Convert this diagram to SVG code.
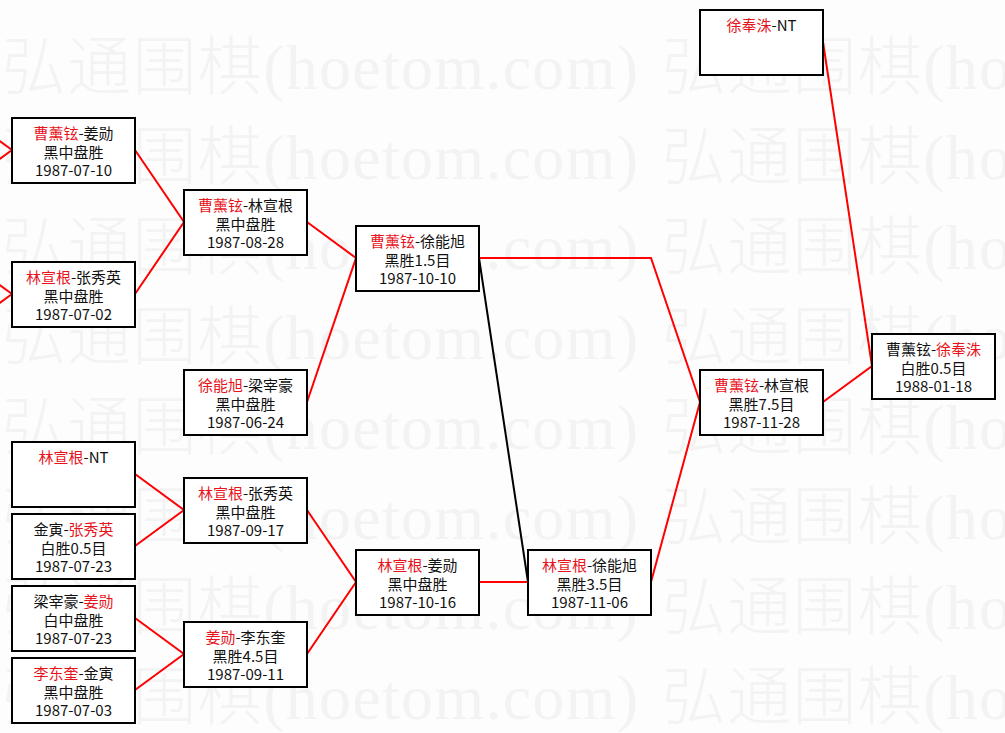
<svg xmlns="http://www.w3.org/2000/svg" width="1005" height="733" viewBox="0 0 1005 733">
<style>
.bg{fill:#fdfdfd}
.wm{font-family:"Liberation Serif","Noto Sans CJK SC",serif;font-size:64px;font-weight:300;fill:#f3f3f3}
.box{fill:#fff;stroke:#000;stroke-width:2}
.t{font-family:"Noto Sans CJK SC",sans-serif;font-size:15px;text-anchor:middle;fill:#111}
.r{fill:#e8141c}
.c{fill:none;stroke:#ff0000;stroke-width:2}
.k{fill:none;stroke:#000;stroke-width:2}
</style>
<rect class="bg" x="0" y="0" width="1005" height="733"/>
<g id="watermark">
<text class="wm" x="2" y="89" textLength="636" lengthAdjust="spacing">弘通围棋(hoetom.com)</text>
<text class="wm" x="662" y="89" textLength="636" lengthAdjust="spacing">弘通围棋(hoetom.com)</text>
<text class="wm" x="2" y="179" textLength="636" lengthAdjust="spacing">弘通围棋(hoetom.com)</text>
<text class="wm" x="662" y="179" textLength="636" lengthAdjust="spacing">弘通围棋(hoetom.com)</text>
<text class="wm" x="2" y="269" textLength="636" lengthAdjust="spacing">弘通围棋(hoetom.com)</text>
<text class="wm" x="662" y="269" textLength="636" lengthAdjust="spacing">弘通围棋(hoetom.com)</text>
<text class="wm" x="2" y="359" textLength="636" lengthAdjust="spacing">弘通围棋(hoetom.com)</text>
<text class="wm" x="662" y="359" textLength="636" lengthAdjust="spacing">弘通围棋(hoetom.com)</text>
<text class="wm" x="2" y="449" textLength="636" lengthAdjust="spacing">弘通围棋(hoetom.com)</text>
<text class="wm" x="662" y="449" textLength="636" lengthAdjust="spacing">弘通围棋(hoetom.com)</text>
<text class="wm" x="2" y="539" textLength="636" lengthAdjust="spacing">弘通围棋(hoetom.com)</text>
<text class="wm" x="662" y="539" textLength="636" lengthAdjust="spacing">弘通围棋(hoetom.com)</text>
<text class="wm" x="2" y="629" textLength="636" lengthAdjust="spacing">弘通围棋(hoetom.com)</text>
<text class="wm" x="662" y="629" textLength="636" lengthAdjust="spacing">弘通围棋(hoetom.com)</text>
<text class="wm" x="2" y="719" textLength="636" lengthAdjust="spacing">弘通围棋(hoetom.com)</text>
<text class="wm" x="662" y="719" textLength="636" lengthAdjust="spacing">弘通围棋(hoetom.com)</text>
</g>
<g id="connectors">
<polyline class="c" points="-37,114 12,150 -37,186"/>
<polyline class="c" points="-37,258 12,294 -37,330"/>
<polyline class="c" points="135,150 184,222 135,294"/>
<polyline class="c" points="135,474 184,510 135,546"/>
<polyline class="c" points="135,618 184,654 135,690"/>
<polyline class="c" points="307,222 356,258 307,402"/>
<polyline class="c" points="307,510 356,582 307,654"/>
<line class="k" x1="479" y1="258" x2="528" y2="582"/>
<line class="c" x1="479" y1="582" x2="528" y2="582"/>
<polyline class="c" points="479,258 651,258 700,402 651,582"/>
<polyline class="c" points="823,402 872,366 823,42"/>
</g>
<g id="nA"><rect class="box" x="12" y="118" width="123" height="65"/><text class="t" x="73.5" y="139"><tspan class="r">曹薰铉</tspan>-姜勋</text><text class="t" x="73.5" y="158">黑中盘胜</text><text class="t" x="73.5" y="176">1987-07-10</text></g>
<g id="nB"><rect class="box" x="12" y="262" width="123" height="65"/><text class="t" x="73.5" y="283"><tspan class="r">林宣根</tspan>-张秀英</text><text class="t" x="73.5" y="302">黑中盘胜</text><text class="t" x="73.5" y="320">1987-07-02</text></g>
<g id="nC"><rect class="box" x="184" y="190" width="123" height="65"/><text class="t" x="245.5" y="211"><tspan class="r">曹薰铉</tspan>-林宣根</text><text class="t" x="245.5" y="230">黑中盘胜</text><text class="t" x="245.5" y="248">1987-08-28</text></g>
<g id="nD"><rect class="box" x="184" y="370" width="123" height="65"/><text class="t" x="245.5" y="391"><tspan class="r">徐能旭</tspan>-梁宰豪</text><text class="t" x="245.5" y="410">黑中盘胜</text><text class="t" x="245.5" y="428">1987-06-24</text></g>
<g id="nE"><rect class="box" x="12" y="442" width="123" height="65"/><text class="t" x="73.5" y="463"><tspan class="r">林宣根</tspan>-NT</text></g>
<g id="nF"><rect class="box" x="12" y="514" width="123" height="65"/><text class="t" x="73.5" y="535">金寅-<tspan class="r">张秀英</tspan></text><text class="t" x="73.5" y="554">白胜0.5目</text><text class="t" x="73.5" y="572">1987-07-23</text></g>
<g id="nG"><rect class="box" x="184" y="478" width="123" height="65"/><text class="t" x="245.5" y="499"><tspan class="r">林宣根</tspan>-张秀英</text><text class="t" x="245.5" y="518">黑中盘胜</text><text class="t" x="245.5" y="536">1987-09-17</text></g>
<g id="nH"><rect class="box" x="12" y="586" width="123" height="65"/><text class="t" x="73.5" y="607">梁宰豪-<tspan class="r">姜勋</tspan></text><text class="t" x="73.5" y="626">白中盘胜</text><text class="t" x="73.5" y="644">1987-07-23</text></g>
<g id="nI"><rect class="box" x="12" y="658" width="123" height="65"/><text class="t" x="73.5" y="679"><tspan class="r">李东奎</tspan>-金寅</text><text class="t" x="73.5" y="698">黑中盘胜</text><text class="t" x="73.5" y="716">1987-07-03</text></g>
<g id="nJ"><rect class="box" x="184" y="622" width="123" height="65"/><text class="t" x="245.5" y="643"><tspan class="r">姜勋</tspan>-李东奎</text><text class="t" x="245.5" y="662">黑胜4.5目</text><text class="t" x="245.5" y="680">1987-09-11</text></g>
<g id="nK"><rect class="box" x="356" y="226" width="123" height="65"/><text class="t" x="417.5" y="247"><tspan class="r">曹薰铉</tspan>-徐能旭</text><text class="t" x="417.5" y="266">黑胜1.5目</text><text class="t" x="417.5" y="284">1987-10-10</text></g>
<g id="nL"><rect class="box" x="356" y="550" width="123" height="65"/><text class="t" x="417.5" y="571"><tspan class="r">林宣根</tspan>-姜勋</text><text class="t" x="417.5" y="590">黑中盘胜</text><text class="t" x="417.5" y="608">1987-10-16</text></g>
<g id="nM"><rect class="box" x="528" y="550" width="123" height="65"/><text class="t" x="589.5" y="571"><tspan class="r">林宣根</tspan>-徐能旭</text><text class="t" x="589.5" y="590">黑胜3.5目</text><text class="t" x="589.5" y="608">1987-11-06</text></g>
<g id="nN"><rect class="box" x="700" y="370" width="123" height="65"/><text class="t" x="761.5" y="391"><tspan class="r">曹薰铉</tspan>-林宣根</text><text class="t" x="761.5" y="410">黑胜7.5目</text><text class="t" x="761.5" y="428">1987-11-28</text></g>
<g id="nO"><rect class="box" x="872" y="334" width="123" height="65"/><text class="t" x="933.5" y="355">曹薰铉-<tspan class="r">徐奉洙</tspan></text><text class="t" x="933.5" y="374">白胜0.5目</text><text class="t" x="933.5" y="392">1988-01-18</text></g>
<g id="nP"><rect class="box" x="700" y="10" width="123" height="65"/><text class="t" x="761.5" y="31"><tspan class="r">徐奉洙</tspan>-NT</text></g>
</svg>
